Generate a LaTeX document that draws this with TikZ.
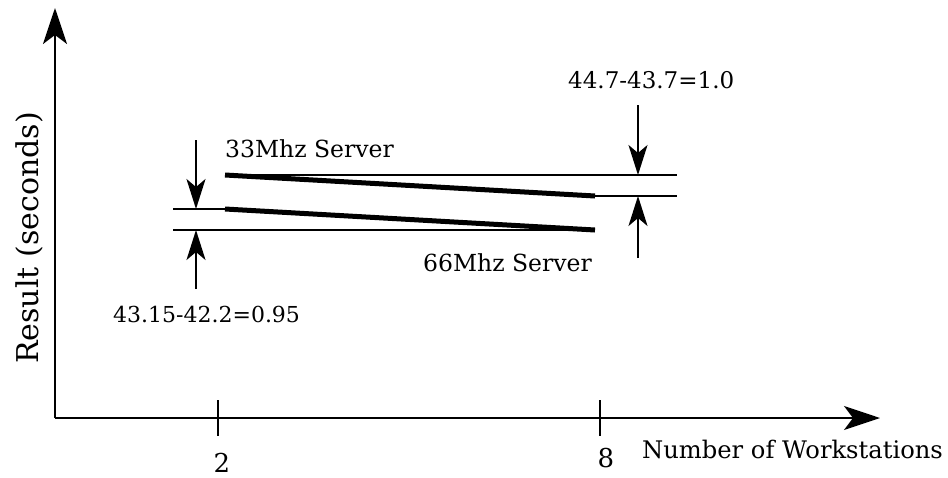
\documentclass[tikz,border=0pt]{standalone}
\usepackage{fontspec}
\setmainfont{DejaVu Serif}
\usetikzlibrary{arrows.meta}
\begin{document}
\begin{tikzpicture}[x=1pt,y=-1pt,
  axis/.style={line width=2pt,-{Stealth[length=36pt,width=24pt,inset=9pt]}},
  dimarrow/.style={line width=2pt,-{Stealth[length=30pt,width=19pt,inset=8pt]}},
  guide/.style={line width=1.8pt},
  curve/.style={line width=5pt},
  tick/.style={line width=2pt},
  lbl/.style={inner sep=0pt},
  fs/.style={font=\fontsize{#1}{#1}\selectfont}]
\useasboundingbox (0,0) rectangle (948,477);

% axes
\coordinate (O) at (55,418);
\coordinate (ytop) at (55,8);
\coordinate (xend) at (880,418);
\draw[axis] (O) -- (ytop);
\draw[axis] (O) -- (xend);

% ticks
\coordinate (t2a) at (218,400); \coordinate (t2b) at (218,436);
\coordinate (t8a) at (600,400); \coordinate (t8b) at (600,436);
\draw[tick] (t2a) -- (t2b);
\draw[tick] (t8a) -- (t8b);

% 33 MHz server
\coordinate (s33a) at (225,175);
\coordinate (s33b) at (595,196);
\coordinate (s33top) at (677,175);
\coordinate (s33bot) at (677,196);
\draw[guide] (s33a) -- (s33top);
\draw[guide] (s33b) -- (s33bot);
\draw[curve] (s33a) -- (s33b);

% 66 MHz server
\coordinate (s66a) at (225,209);
\coordinate (s66b) at (595,230);
\coordinate (g66top) at (173,209);
\coordinate (g66bot) at (173,230);
\draw[guide] (g66top) -- (s66a);
\draw[guide] (g66bot) -- (s66b);
\draw[curve] (s66a) -- (s66b);

% difference markers
\coordinate (dl1) at (196,140); \coordinate (dl1t) at (196,209);
\coordinate (dl2) at (196,289); \coordinate (dl2t) at (196,230);
\coordinate (dr1) at (638,105); \coordinate (dr1t) at (638,175);
\coordinate (dr2) at (638,258); \coordinate (dr2t) at (638,196);
\draw[dimarrow] (dl1) -- (dl1t);
\draw[dimarrow] (dl2) -- (dl2t);
\draw[dimarrow] (dr1) -- (dr1t);
\draw[dimarrow] (dr2) -- (dr2t);

% labels
\node[lbl,fs=23.5,anchor=base west] (l33) at (225,157) {33Mhz Server};
\node[lbl,fs=23.5,anchor=base west] (l66) at (423,271) {66Mhz Server};
\node[lbl,fs=22,anchor=base west] (dl) at (113,322) {43.15-42.2=0.95};
\node[lbl,fs=23,anchor=base west] (dr) at (568,88) {44.7-43.7=1.0};
\node[lbl,fs=26,anchor=base] (n2) at (222,472) {2};
\node[lbl,fs=26,anchor=base] (n8) at (606,467) {8};
\node[lbl,fs=24.2,anchor=base west] (xl) at (642,458) {Number of Workstations};
\node[lbl,fs=30,rotate=90,anchor=base] (yl) at (38,238) {Result (seconds)};
\end{tikzpicture}
\end{document}
